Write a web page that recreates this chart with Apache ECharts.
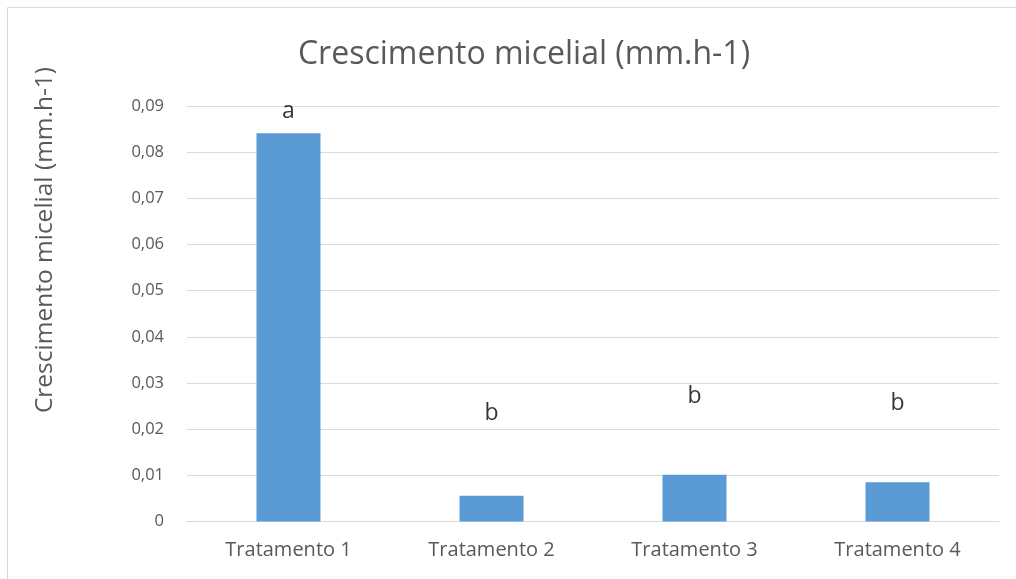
<!DOCTYPE html>
<html>
<head>
<meta charset="utf-8">
<script src="https://cdn.jsdelivr.net/npm/echarts@6/dist/echarts.min.js"></script>
<style>
  html, body { margin: 0; padding: 0; background: #fff; }
  #chart { width: 1016px; height: 579px; }
</style>
</head>
<body>
<div id="chart"></div>
<script>
// ── Data ──────────────────────────────────────────────
const categories = ['Tratamento 1', 'Tratamento 2', 'Tratamento 3', 'Tratamento 4'];
const growth     = [0.0841, 0.0056, 0.0101, 0.0085];
const letters    = ['a', 'b', 'b', 'b'];
const letterPos  = [0.0888, 0.0233, 0.0270, 0.0255];   // where the letters sit

const fontFamily = '"Open Sans", sans-serif';
const textMuted  = '#595959';
const gridLine   = '#d9d9d9';
const barColor   = '#5b9bd5';

const chart = echarts.init(document.getElementById('chart'), null, { renderer: 'canvas' });
chart.setOption({
  animation: false,
  title: {
    text: 'Crescimento micelial (mm.h-1)',
    left: 519, top: 34, textAlign: 'center',
    textStyle: { fontFamily, fontSize: 32, fontWeight: 'normal', color: textMuted },
  },
  graphic: [
    { type: 'rect', shape: { x: 7.5, y: 7.5, width: 1100, height: 700 },
      style: { fill: 'none', stroke: gridLine, lineWidth: 1 }, silent: true },
    { type: 'text', x: 45, y: 240, rotation: Math.PI / 2,
      style: { text: 'Crescimento micelial (mm.h-1)', fontFamily, fontSize: 24.5,
               fill: textMuted, align: 'center', verticalAlign: 'middle' } },
  ],
  grid: { left: 187, right: 17, top: 106, bottom: 57.5 },
  xAxis: {
    type: 'category',
    data: categories,
    axisLine: { lineStyle: { color: gridLine } },
    axisTick: { show: false },
    axisLabel: { fontFamily, fontSize: 20, color: textMuted, margin: 19 },
  },
  yAxis: {
    type: 'value',
    min: 0, max: 0.09, interval: 0.01,
    axisLine: { show: false },
    axisTick: { show: false },
    axisLabel: { fontFamily, fontSize: 16.5, color: textMuted, margin: 23,
                 formatter: v => v === 0 ? '0' : v.toFixed(2).replace('.', ',') },
    splitLine: { lineStyle: { color: gridLine, width: 1 } },
  },
  series: [
    {
      type: 'bar', data: growth, barWidth: 64,
      itemStyle: { color: barColor },
    },
    {
      type: 'scatter', symbolSize: 1, itemStyle: { color: 'transparent' },
      data: letterPos.map((v, i) => ({ value: [i, v], name: letters[i] })),
      label: { show: true, position: 'inside', formatter: p => p.name,
               fontFamily, fontSize: 23, color: '#000' },
      silent: true,
    },
  ],
});
</script>
</body>
</html>
